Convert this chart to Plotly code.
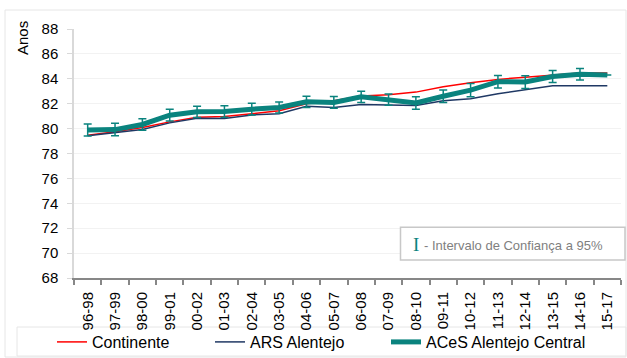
import plotly.graph_objects as go

# Período trienal (eixo das categorias)
periodos = ["96-98", "97-99", "98-00", "99-01", "00-02", "01-03", "02-04", "03-05",
            "04-06", "05-07", "06-08", "07-09", "08-10", "09-11", "10-12", "11-13",
            "12-14", "13-15", "14-16", "15-17"]

# Esperança de vida (anos)
continente = [79.47, 79.74, 80.09, 80.54, 80.92, 80.97, 81.20, 81.43, 81.99, 82.23,
              82.61, 82.72, 82.93, 83.36, 83.68, 83.95, 84.13, 84.33, 84.47, 84.47]
ars_alentejo = [79.42, 79.69, 79.93, 80.46, 80.84, 80.81, 81.10, 81.19, 81.79, 81.70,
                81.94, 81.89, 81.86, 82.23, 82.39, 82.80, 83.15, 83.44, 83.44, 83.44]
aces_central = [79.88, 79.92, 80.33, 81.08, 81.35, 81.38, 81.56, 81.70, 82.15, 82.10,
                82.55, 82.32, 82.06, 82.60, 83.09, 83.77, 83.74, 84.18, 84.36, 84.30]
# Semi-amplitude do intervalo de confiança a 95%
ic95 = [0.48, 0.50, 0.47, 0.47, 0.45, 0.46, 0.47, 0.44, 0.45, 0.47,
        0.46, 0.45, 0.50, 0.50, 0.54, 0.50, 0.51, 0.48, 0.46, None]

y_ticks = list(range(68, 89, 2))

W, H = 627, 358
ML, MR, MT, MB = 74, 6, 29, 80
PW, PH = W - ML - MR, H - MT - MB


def px(x):
    return (x - ML) / PW


def py(y):
    return (H - MB - y) / PH


def cx(x):
    return x / W


def cy(y):
    return (H - y) / H


FONT = "Liberation Sans, Arial, sans-serif"
RED = "#FF0000"
NAVY = "#1F3864"
TEAL = "#0A837E"

fig = go.Figure()
fig.add_trace(go.Scatter(x=periodos, y=continente, mode="lines", name="Continente",
                         line=dict(color=RED, width=1.5), legend="legend"))
fig.add_trace(go.Scatter(x=periodos, y=ars_alentejo, mode="lines", name="ARS Alentejo",
                         line=dict(color=NAVY, width=1.5), legend="legend2"))
fig.add_trace(go.Scatter(x=periodos, y=aces_central, mode="lines", name="ACeS Alentejo Central",
                         line=dict(color=TEAL, width=5), legend="legend3",
                         error_y=dict(type="data", array=ic95, visible=True,
                                      color=TEAL, thickness=1.5, width=4)))

legend_common = dict(orientation="h", yanchor="middle", xanchor="left",
                     xref="container", yref="container",
                     font=dict(family=FONT, size=16, color="#000000"),
                     bgcolor="rgba(0,0,0,0)", borderwidth=0)

shapes = [
    # moldura exterior
    dict(type="rect", xref="paper", yref="paper", x0=px(5), x1=px(626), y0=py(357), y1=py(10),
         line=dict(color="#E6E6E6", width=1), layer="below"),
    # caixa da legenda
    dict(type="rect", xref="paper", yref="paper", x0=px(17), x1=px(626), y0=py(356), y1=py(327),
         line=dict(color="#E6E6E6", width=1), layer="below"),
    # caixa da nota do intervalo de confiança
    dict(type="rect", xref="paper", yref="paper", x0=px(400.5), x1=px(625), y0=py(260), y1=py(227.3),
         line=dict(color="#C8C8C8", width=1.5), fillcolor="white", layer="above"),
]

annotations = [
    dict(text="Anos", xref="paper", yref="paper", x=px(22), y=py(38), textangle=-90,
         showarrow=False, xanchor="center", yanchor="middle",
         font=dict(family=FONT, size=15, color="#000000")),
    dict(text="I", xref="paper", yref="paper", x=px(415.5), y=py(244.5),
         showarrow=False, xanchor="center", yanchor="middle",
         font=dict(family="Liberation Serif, Times New Roman, serif", size=19, color=TEAL)),
    dict(text="- Intervalo de Confiança a 95%", xref="paper", yref="paper", x=px(422), y=py(245),
         showarrow=False, xanchor="left", yanchor="middle",
         font=dict(family=FONT, size=13, color="#7F7F7F")),
]

fig.update_layout(
    width=W, height=H,
    margin=dict(l=ML, r=MR, t=MT, b=MB, pad=0, autoexpand=False),
    paper_bgcolor="white", plot_bgcolor="white",
    font=dict(family=FONT, size=15, color="#000000"),
    showlegend=True,
    legend=dict(legend_common, x=cx(52), y=cy(342)),
    legend2=dict(legend_common, x=cx(210), y=cy(342)),
    legend3=dict(legend_common, x=cx(386), y=cy(342)),
    shapes=shapes,
    annotations=annotations,
    xaxis=dict(type="category", range=[-0.5, len(periodos) - 0.5],
               showgrid=False, zeroline=False, automargin=False,
               showline=True, linecolor="#878787", linewidth=2,
               ticks="outside", tickson="boundaries", ticklen=5, tickcolor="#878787", tickwidth=1.5,
               tickangle=-90, ticklabelstandoff=6,
               tickfont=dict(family=FONT, size=15, color="#000000")),
    yaxis=dict(range=[68, 88], tickvals=y_ticks, ticktext=[str(v) for v in y_ticks],
               showgrid=True, gridcolor="#F2F2F2", gridwidth=1, zeroline=False, automargin=False,
               showline=True, linecolor="#D9D9D9", linewidth=1.5,
               ticks="outside", ticklen=5, tickcolor="#D9D9D9", tickwidth=1,
               ticklabelstandoff=6,
               tickfont=dict(family=FONT, size=15, color="#000000")),
)

fig.write_html("out.html")
